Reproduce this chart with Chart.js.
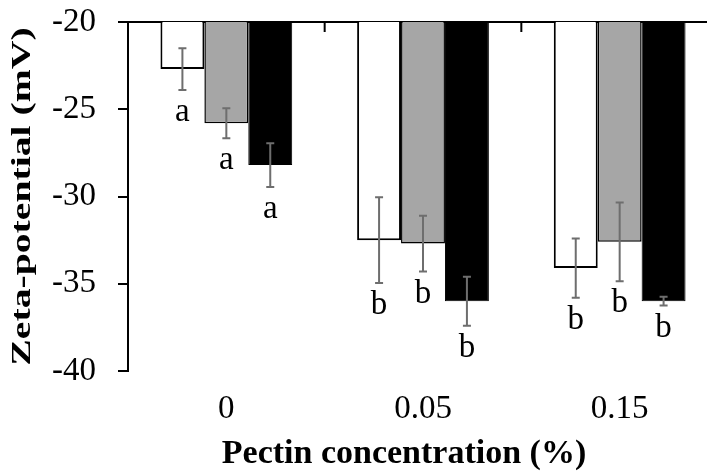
<!DOCTYPE html>
<html>
<head>
  <meta charset="utf-8" />
  <title>Zeta-potential</title>
  <script src="https://cdn.jsdelivr.net/npm/chart.js@4.4.1/dist/chart.umd.min.js"></script>
  <style>
    html, body { margin: 0; padding: 0; background: #ffffff; overflow: hidden; }
    #wrap { width: 720px; height: 471px; }
  </style>
</head>
<body>
  <div id="wrap"><canvas id="zeta"></canvas></div>
  <script>
    // values
    var categories = ['0', '0.05', '0.15'];
    var whiteVals = [-22.7, -32.5, -34.1];
    var whiteErr  = [1.2, 2.45, 1.7];
    var grayVals  = [-25.8, -32.7, -32.6];
    var grayErr   = [0.86, 1.6, 2.25];
    var blackVals = [-28.2, -36.0, -36.0];
    var blackErr  = [1.25, 1.4, 0.25];
    var whiteLetters = ['a', 'b', 'b'];
    var grayLetters  = ['a', 'b', 'b'];
    var blackLetters = ['a', 'b', 'b'];
    var yTicks = [-20, -25, -30, -35, -40];

    var serif = "'Liberation Serif', 'Times New Roman', serif";

    // error bars + significance letters, top axis line ticks, axis titles
    var extras = {
      id: 'extras',
      afterDatasetsDraw: function (chart) {
        var ctx = chart.ctx;
        var y = chart.scales.y, x = chart.scales.x;
        var area = chart.chartArea;
        ctx.save();
        chart.data.datasets.forEach(function (ds, i) {
          var meta = chart.getDatasetMeta(i);
          meta.data.forEach(function (bar, j) {
            var v = ds.data[j], e = ds.err[j];
            var yTop = y.getPixelForValue(v + e);
            var yBot = y.getPixelForValue(v - e);
            ctx.strokeStyle = '#6e6e6e';
            ctx.lineWidth = 2;
            ctx.beginPath();
            ctx.moveTo(bar.x, yTop); ctx.lineTo(bar.x, yBot);
            ctx.moveTo(bar.x - 4, yTop); ctx.lineTo(bar.x + 4, yTop);
            ctx.moveTo(bar.x - 4, yBot); ctx.lineTo(bar.x + 4, yBot);
            ctx.stroke();
            ctx.fillStyle = '#000';
            ctx.font = '33px ' + serif;
            ctx.textAlign = 'center';
            ctx.textBaseline = 'alphabetic';
            ctx.fillText(ds.letters[j], bar.x, yBot + 31);
          });
        });

        // small ticks hanging from the top line between categories
        ctx.strokeStyle = '#000';
        ctx.lineWidth = 2;
        for (var k = 1; k < categories.length; k++) {
          var bx = (x.getPixelForTick(k - 1) + x.getPixelForTick(k)) / 2;
          ctx.beginPath();
          ctx.moveTo(bx, area.top);
          ctx.lineTo(bx, area.top + 10);
          ctx.stroke();
        }

        // axis titles
        ctx.fillStyle = '#000';
        ctx.textAlign = 'center';
        ctx.textBaseline = 'alphabetic';
        ctx.font = 'bold 34px ' + serif;
        ctx.fillText('Pectin concentration (%)', (area.left + area.right) / 2 - 19, chart.height - 8);

        ctx.translate(23, (area.top + area.bottom) / 2);
        ctx.rotate(-Math.PI / 2);
        ctx.scale(1.28, 0.85);
        ctx.textBaseline = 'middle';
        ctx.font = 'bold 31px ' + serif;
        ctx.fillText('Zeta-potential (mV)', 0, 0);
        ctx.restore();
      }
    };

    new Chart(document.getElementById('zeta'), {
      type: 'bar',
      data: {
        labels: categories,
        datasets: [
          { label: 'white', data: whiteVals, err: whiteErr, letters: whiteLetters,
            backgroundColor: '#ffffff', borderColor: '#000000', borderWidth: 2, borderSkipped: false },
          { label: 'gray', data: grayVals, err: grayErr, letters: grayLetters,
            backgroundColor: '#a6a6a6', borderColor: '#000000', borderWidth: 1.5, borderSkipped: false },
          { label: 'black', data: blackVals, err: blackErr, letters: blackLetters,
            backgroundColor: '#000000', borderColor: '#000000', borderWidth: 1, borderSkipped: false }
        ]
      },
      options: {
        responsive: true,
        maintainAspectRatio: false,
        animation: false,
        categoryPercentage: 0.67,
        barPercentage: 1.0,
        layout: { padding: { top: 22, right: 2, left: 0, bottom: 0 } },
        plugins: {
          legend: { display: false },
          tooltip: { enabled: false }
        },
        scales: {
          x: {
            grid: { display: false, drawTicks: false },
            border: { display: false },
            ticks: { color: '#000', font: { family: serif, size: 33 }, padding: 19 },
            afterFit: function (s) { s.height = 100; }
          },
          y: {
            min: -40,
            max: -20,
            afterBuildTicks: function (s) { s.ticks = yTicks.map(function (v) { return { value: v }; }); },
            grid: {
              drawOnChartArea: true,
              color: function (c) { return c.tick && c.tick.value === -20 ? '#000' : 'rgba(0,0,0,0)'; },
              tickColor: '#000',
              tickLength: 10,
              lineWidth: 2
            },
            border: { display: true, color: '#000', width: 2 },
            ticks: { color: '#000', font: { family: serif, size: 33 }, padding: 22 },
            afterFit: function (s) { s.width = 128; s.paddingTop = 0; s.paddingBottom = 0; }
          }
        }
      },
      plugins: [extras]
    });
  </script>
</body>
</html>
